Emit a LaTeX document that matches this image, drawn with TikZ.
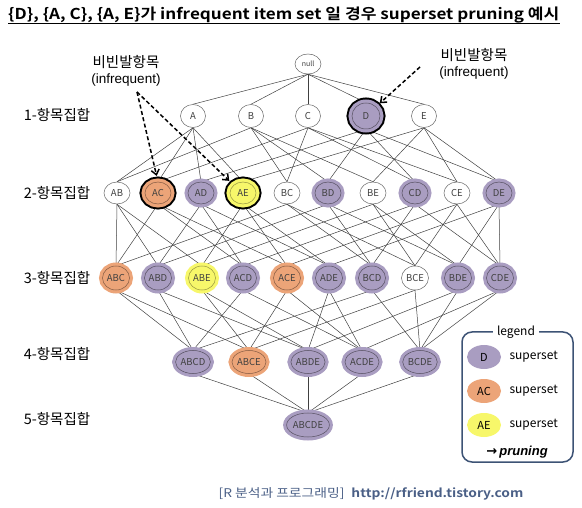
\documentclass[tikz,border=0pt]{standalone}
\usepackage{fontspec}
\setmainfont{Noto Sans CJK KR}[BoldFont={Noto Sans CJK KR Bold}]
\newfontfamily\latinfont{Liberation Sans}
\newfontfamily\titlefont[FakeStretch=1.14]{Noto Sans CJK KR Bold}
\newfontfamily\footfont[FakeStretch=1.15,BoldFont={Noto Sans CJK KR Bold}]{Noto Sans CJK KR}
\newfontfamily\arrowfont{DejaVu Sans}
\usetikzlibrary{shapes.geometric,backgrounds,arrows.meta}
\definecolor{lav}{HTML}{A99DC1}
\definecolor{org}{HTML}{ECA478}
\definecolor{yel}{HTML}{F7F76A}
\definecolor{navy}{HTML}{3D5375}
\definecolor{foot}{HTML}{4A5F86}
\begin{document}
\begin{tikzpicture}[x=1pt,y=-1pt,
  base/.style={ellipse, inner sep=0pt, minimum width=26pt, minimum height=22pt,
    font=\fontsize{9.5}{9.5}\selectfont, text=black!75},
  wnode/.style={base, draw=black!60, line width=0.5pt, fill=white},
  pnode/.style={base, fill=lav, draw=black!50!lav, line width=0.5pt, preaction={draw=lav, line width=7pt}},
  onode/.style={base, fill=org, draw=black!45!org, line width=0.5pt, preaction={draw=org, line width=7pt}},
  ynode/.style={base, fill=yel, draw=black!40!yel, line width=0.5pt, preaction={draw=yel, line width=7pt}},
  hl/.style={preaction={draw=black, line width=11pt}},
  big/.style={minimum width=34pt, minimum height=23pt},
  edge/.style={draw=black!75, line width=0.5pt},
  lvl/.style={font=\fontsize{14.5}{14.5}\selectfont, text=black},
  ann/.style={font=\fontsize{14.5}{14.5}\selectfont, text=black, align=center, inner sep=0pt},
  darrow/.style={line width=1.5pt, dash pattern=on 4pt off 2.5pt, -{Straight Barb[length=5pt,width=8pt,line width=1.5pt]}},
  legtext/.style={font=\fontsize{12}{12}\selectfont, text=black},
  legell/.style={ellipse, minimum width=34pt, minimum height=24pt, inner sep=0pt, font=\fontsize{11}{11}\selectfont}
]
\useasboundingbox (0,0) rectangle (582,508);

% title
\node[anchor=base west, inner sep=0pt, font=\titlefont\fontsize{15}{15}\selectfont] (title) at (8,20)
  {\{D\}, \{A, C\}, \{A, E\}가 infrequent item set 일 경우 superset pruning 예시};
\draw[line width=1pt] ([yshift=-4pt]title.base west) -- ([yshift=-4pt]title.base east);

% level labels
\node[lvl] (L1) at (57,115) {1-항목집합};
\node[lvl] (L2) at (57,193) {2-항목집합};
\node[lvl] (L3) at (57,278) {3-항목집합};
\node[lvl] (L4) at (57,354) {4-항목집합};
\node[lvl] (L5) at (57,419) {5-항목집합};

% lattice nodes
\node[wnode, minimum width=26pt, minimum height=20pt, font=\fontsize{7}{7}\selectfont] (null) at (308,64) {null};
\node[wnode, minimum width=25pt, minimum height=23pt] (A) at (193,116) {A};
\node[wnode, minimum width=25pt, minimum height=23pt] (B) at (251,116) {B};
\node[wnode, minimum width=25pt, minimum height=23pt] (C) at (308,116) {C};
\node[hl, pnode, minimum width=28pt, minimum height=26pt] (D) at (366,116) {D};
\node[wnode, minimum width=25pt, minimum height=23pt] (E) at (424,116) {E};

\node[wnode] (AB) at (117,193) {AB};
\node[hl, onode] (AC) at (158,193) {AC};
\node[pnode] (AD) at (201,193) {AD};
\node[hl, ynode] (AE) at (243,193) {AE};
\node[wnode] (BC) at (287,193) {BC};
\node[pnode] (BD) at (328,193) {BD};
\node[wnode] (BE) at (373,193) {BE};
\node[pnode] (CD) at (415,193) {CD};
\node[wnode] (CE) at (457,193) {CE};
\node[pnode] (DE) at (499,193) {DE};

\node[onode, minimum width=27pt, minimum height=24pt] (ABC) at (116,278) {ABC};
\node[pnode, minimum width=27pt, minimum height=24pt] (ABD) at (158,278) {ABD};
\node[ynode, minimum width=27pt, minimum height=24pt] (ABE) at (202,278) {ABE};
\node[pnode, minimum width=27pt, minimum height=24pt] (ACD) at (243,278) {ACD};
\node[onode, minimum width=27pt, minimum height=24pt] (ACE) at (287,278) {ACE};
\node[pnode, minimum width=27pt, minimum height=24pt] (ADE) at (329,278) {ADE};
\node[pnode, minimum width=27pt, minimum height=24pt] (BCD) at (372,278) {BCD};
\node[wnode, minimum width=27pt, minimum height=24pt] (BCE) at (415,278) {BCE};
\node[pnode, minimum width=27pt, minimum height=24pt] (BDE) at (458,278) {BDE};
\node[pnode, minimum width=27pt, minimum height=24pt] (CDE) at (500,278) {CDE};

\node[pnode, big] (ABCD) at (193,362) {ABCD};
\node[onode, big] (ABCE) at (249,362) {ABCE};
\node[pnode, big] (ABDE) at (308,362) {ABDE};
\node[pnode, big] (ACDE) at (362,362) {ACDE};
\node[pnode, big] (BCDE) at (420,362) {BCDE};

\node[pnode, minimum width=37pt, minimum height=24pt] (ABCDE) at (308,425) {ABCDE};

% edges
\begin{scope}[on background layer]
\foreach \c in {A,B,C,D,E} \draw[edge] (null.south) -- (\c.north);
\foreach \p/\c in {A/AB,A/AC,A/AD,A/AE,B/AB,B/BC,B/BD,B/BE,C/AC,C/BC,C/CD,C/CE,D/AD,D/BD,D/CD,D/DE,E/AE,E/BE,E/CE,E/DE}
  \draw[edge] (\p.south) -- (\c.north);
\foreach \p/\c in {AB/ABC,AC/ABC,BC/ABC,AB/ABD,AD/ABD,BD/ABD,AB/ABE,AE/ABE,BE/ABE,AC/ACD,AD/ACD,CD/ACD,AC/ACE,AE/ACE,CE/ACE,AD/ADE,AE/ADE,DE/ADE,BC/BCD,BD/BCD,CD/BCD,BC/BCE,BE/BCE,CE/BCE,BD/BDE,BE/BDE,DE/BDE,CD/CDE,CE/CDE,DE/CDE}
  \draw[edge] (\p.south) -- (\c.north);
\foreach \p/\c in {ABC/ABCD,ABD/ABCD,ACD/ABCD,BCD/ABCD,ABC/ABCE,ABE/ABCE,ACE/ABCE,BCE/ABCE,ABD/ABDE,ABE/ABDE,ADE/ABDE,BDE/ABDE,ACD/ACDE,ACE/ACDE,ADE/ACDE,CDE/ACDE,BCD/BCDE,BCE/BCDE,BDE/BCDE,CDE/BCDE}
  \draw[edge] (\p.south) -- (\c.north);
\foreach \p in {ABCD,ABCE,ABDE,ACDE,BCDE}
  \draw[edge] (\p.south) -- (ABCDE.north);
\end{scope}

% annotations
\node[ann] (ann1a) at (126,62) {비빈발항목};
\node[ann] (ann1b) at (126,80) {\latinfont\fontsize{13.5}{13.5}\selectfont (infrequent)};
\node[ann] (ann2a) at (474,55) {비빈발항목};
\node[ann] (ann2b) at (474,73) {\latinfont\fontsize{13.5}{13.5}\selectfont (infrequent)};
\coordinate (s1) at (137,92);
\coordinate (s2) at (420,67);
\draw[darrow, shorten >=6pt] (s1) -- (AC.north);
\draw[darrow, shorten >=6pt] (s1) -- (AE.north west);
\draw[darrow, shorten >=5pt] (s2) -- (D.north east);

% legend
\draw[navy, line width=1.5pt, rounded corners=10pt] (462,332) rectangle (573,462);
\node[legtext, fill=white, inner xsep=4pt, inner ysep=1pt] (legtitle) at (516,332) {legend};
\node[legell, fill=lav] (lD) at (484,357) {D};
\node[legell, fill=org] (lAC) at (484,391) {AC};
\node[legell, fill=yel] (lAE) at (484,425) {AE};
\node[legtext, anchor=west] (tD) at (506,357) {superset};
\node[legtext, anchor=west] (tAC) at (506,391) {superset};
\node[legtext, anchor=west] (tAE) at (506,425) {superset};
\node[font=\latinfont\bfseries\itshape\fontsize{13}{13}\selectfont] (prun) at (517,452) {{\arrowfont\bfseries →}\,pruning};

% footer
\node[text=foot, font=\footfont\fontsize{12}{12}\selectfont] (foot) at (371,494) {[R 분석과 프로그래밍]\hspace{7pt}\textbf{http://rfriend.tistory.com}};
\end{tikzpicture}
\end{document}
